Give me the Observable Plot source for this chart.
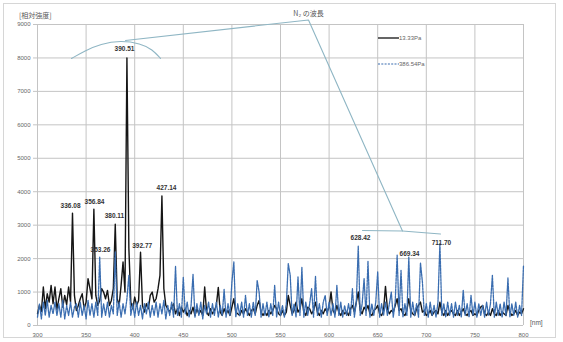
<!DOCTYPE html>
<html><head><meta charset="utf-8">
<script src="https://cdn.jsdelivr.net/npm/d3@7"></script>
<script src="https://cdn.jsdelivr.net/npm/@observablehq/plot@0.6"></script>
<style>
body{margin:0;background:#fff;}
#wrap{position:relative;width:563px;height:342px;font-family:"Liberation Sans",Arial,sans-serif;overflow:hidden}
#frame{position:absolute;left:3px;top:3px;width:553px;height:335px;border:1px solid #d6d6d6;box-sizing:border-box;pointer-events:none}
.lbl{position:absolute;color:#555;white-space:nowrap;line-height:1}
.leg{position:absolute;display:flex;align-items:center;font-size:6px;color:#666;line-height:1}
</style></head><body>
<div id="wrap">
<div id="chart"></div>
<div id="frame"></div>
<div class="lbl" style="left:19px;top:12px;font-size:7px;font-family:'Noto Sans CJK JP',sans-serif;">[相対強度]</div>
<div class="lbl" style="left:530px;top:320px;font-size:6.5px;">[nm]</div>
<div class="leg" style="left:378px;top:35px;"><svg width="21" height="6"><line x1="0" y1="3" x2="21" y2="3" stroke="#111" stroke-width="1.3"/></svg><span>13.33Pa</span></div>
<div class="leg" style="left:378px;top:61px;"><svg width="21" height="6"><line x1="0" y1="3" x2="21" y2="3" stroke="#3a6db0" stroke-width="1.1" stroke-dasharray="2,1.3"/></svg><span>386.54Pa</span></div>
</div>
<script>
// wavelength grid: 300..800 nm, step 2 nm
const wlStart = 300, wlStep = 2;
const seriesNames = ["13.33Pa", "386.54Pa"];
// 13.33Pa intensities (one row = 20 nm)
const intensity1333 = [
 350,600,420,1150,500,950,700,1200,650,1150,
 480,800,1100,550,900,620,1150,700,3360,900,
 450,600,800,950,500,700,1400,1100,800,3480,
 900,600,750,1100,1000,800,1050,600,750,1100,
 3030,800,600,1200,1900,1000,8000,2310,700,500,
 850,600,750,2190,600,400,650,500,900,1000,
 700,800,1100,1500,3870,1100,600,500,400,550,
 650,350,500,300,550,400,500,300,450,350,
 550,300,500,350,450,300,1150,400,300,500,
 350,450,600,1140,400,300,500,350,450,300,
 550,800,400,350,300,450,350,500,400,300,
 450,500,350,600,750,400,300,400,300,450,
 350,450,600,500,350,300,450,300,400,900,
 600,350,450,700,400,500,800,400,300,550,
 500,350,450,700,400,300,450,350,500,400,
 550,1000,450,350,600,400,300,450,350,400,
 300,500,600,400,700,1000,450,350,550,450,
 600,350,300,450,500,600,350,300,450,1170,
 500,350,450,400,600,800,450,500,350,300,
 450,800,450,350,300,500,600,700,400,450,
 300,350,450,300,400,450,350,700,400,300,
 450,300,400,450,350,300,450,300,400,500,
 350,300,400,450,300,350,300,450,550,600,
 350,300,400,300,500,350,300,450,300,400,
 350,300,600,400,300,350,450,300,400,350,
 500
];
// 386.54Pa intensities
const intensity38654 = [
 250,650,200,700,300,750,250,600,350,700,
 300,650,250,750,200,600,300,700,250,550,
 650,250,700,300,600,200,750,300,650,250,
 700,300,2040,250,650,300,700,250,600,350,
 2200,300,700,250,650,350,800,1500,300,650,
 250,700,300,600,200,650,350,700,250,600,
 300,700,250,650,350,750,200,600,300,700,
 250,1770,300,650,250,1440,350,700,250,600,
 1530,250,650,300,700,200,600,350,700,250,
 650,300,700,250,600,300,1080,250,650,300,
 1300,1900,250,650,300,700,250,900,300,650,
 250,700,300,1350,1000,250,650,300,700,250,
 650,300,1200,250,700,300,600,250,650,1850,
 1500,300,650,250,1450,300,1740,250,700,300,
 650,1100,250,1470,300,650,250,700,900,300,
 700,300,650,250,1200,300,700,250,600,300,
 650,300,1100,250,700,2370,300,650,1400,300,
 1920,250,650,300,700,1600,250,650,300,700,
 300,650,1000,250,700,2100,300,1650,250,650,
 300,2050,250,700,300,650,250,1870,1300,300,
 650,250,700,300,600,250,700,2460,300,650,
 250,700,300,650,250,700,300,600,250,1050,
 300,650,250,900,300,700,250,650,300,600,
 250,700,300,650,1500,250,700,300,650,250,
 700,300,1420,250,650,300,700,250,600,300,
 1800
];
const xTicks = [300,350,400,450,500,550,600,650,700,750,800];
const yTicks = [0,1000,2000,3000,4000,5000,6000,7000,8000,9000];
// peak labels
const peakText = ["336.08","356.84","353.26","380.11","392.77","427.14","390.51","628.42","669.34","711.70"];
const peakLabelX = [334,358.6,364.8,379.2,407.7,432.7,389.5,632.3,682.7,715.6];
const peakLabelY = [3590,3710,2270,3290,2390,4100,8280,2630,2150,2480];
// N2 annotation (in nm / intensity units)
const annoText = "N₂ の波長";
const annoX = 578.8, annoY = 9330;
const arcX = [335,349.4,364.8,385.4,406,418.3,426.5];
const arcY = [7984,8224,8418,8523,8433,8254,7984];
const leaderX = [390.5,578.8,675.5];
const leaderY = [8523,9136,2826];
const bracketX = [634.4,675.5,714.6];
const bracketY = [2841,2826,2736];

const s1 = intensity1333.map((v,i)=>({x: wlStart + wlStep*i, y: v}));
const s2 = intensity38654.map((v,i)=>({x: wlStart + wlStep*i, y: v}));
const peaks = peakText.map((t,i)=>({t, x: peakLabelX[i], y: peakLabelY[i]}));
const arc = arcX.map((x,i)=>({x, y: arcY[i]}));
const leader = leaderX.map((x,i)=>({x, y: leaderY[i]}));
const bracket = bracketX.map((x,i)=>({x, y: bracketY[i]}));

const annoColor = "#8fb6c4";
const chart = Plot.plot({
  width: 563, height: 342,
  marginLeft: 37, marginRight: 40, marginTop: 24, marginBottom: 17,
  style: {fontFamily: "'Liberation Sans', Arial, sans-serif", fontSize: "6px", color: "#555", background: "transparent"},
  x: {domain: [300, 800], label: null},
  y: {domain: [0, 9000], label: null},
  marks: [
    Plot.gridX(xTicks, {stroke: "#c4c4c4", strokeOpacity: 1, strokeWidth: 1}),
    Plot.gridY(yTicks, {stroke: "#c4c4c4", strokeOpacity: 1, strokeWidth: 1}),
    Plot.axisX(xTicks, {tickSize: 0, tickPadding: 7, tickFormat: d => String(d), fill: "#666", fontSize: 6}),
    Plot.axisY(yTicks, {tickSize: 4, tickPadding: 3, stroke: "#c4c4c4", tickFormat: d => String(d), fill: "#666", fontSize: 6}),
    Plot.line(arc, {x: "x", y: "y", stroke: annoColor, strokeWidth: 1.1, curve: "basis"}),
    Plot.line(leader, {x: "x", y: "y", stroke: annoColor, strokeWidth: 1.1}),
    Plot.line(bracket, {x: "x", y: "y", stroke: annoColor, strokeWidth: 1.1}),
    Plot.line(s1, {x: "x", y: "y", stroke: "#151515", strokeWidth: 1.4}),
    Plot.line(s2, {x: "x", y: "y", stroke: "#3a6db0", strokeWidth: 1.3, strokeDasharray: "2.5,1"}),
    Plot.text(peaks, {x: "x", y: "y", text: "t", fontWeight: "bold", fontSize: 6.5, fill: "#333"}),
    Plot.text([annoText], {x: () => annoX, y: () => annoY, text: d => d, fontSize: 7, fill: "#555", fontFamily: "'Noto Sans CJK JP', sans-serif"})
  ]
});
document.getElementById("chart").appendChild(chart);
</script>
</body></html>
